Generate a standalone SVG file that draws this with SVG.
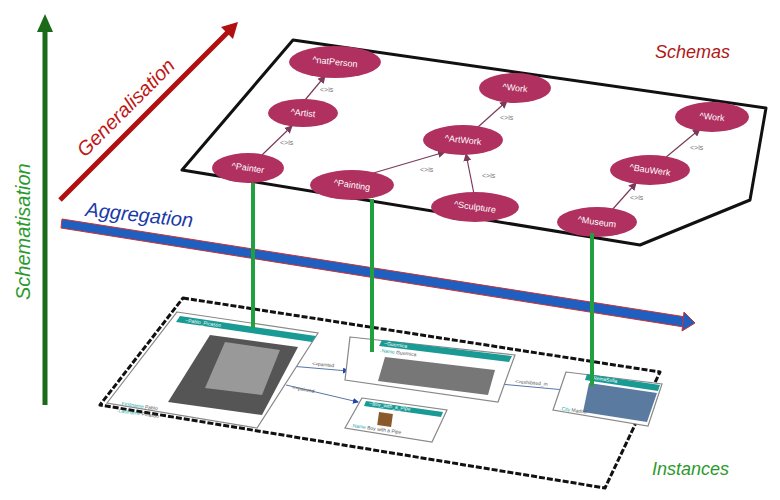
<svg xmlns="http://www.w3.org/2000/svg" width="780" height="500" viewBox="0 0 780 500">
<defs>
<style>
.lbl{font-family:"Liberation Sans",Arial,sans-serif;font-style:italic}
.nd{fill:#b0305f}
.nt{font-family:"Liberation Sans",Arial,sans-serif;font-size:9px;fill:#fff;text-anchor:middle}
.is{font-family:"Liberation Sans",Arial,sans-serif;font-size:7px;fill:#777}
.ed{stroke:#7a3a5a;stroke-width:1.2;marker-end:url(#ah)}
.card{fill:#fff;stroke:#888;stroke-width:1.2}
.hd{fill:#1a9a94}
.sm{font-family:"Liberation Sans",Arial,sans-serif;font-size:5px;fill:#555}
.smk{font-family:"Liberation Sans",Arial,sans-serif;font-size:5px;fill:#2aa}
.ie{stroke:#5577aa;stroke-width:1;fill:none;marker-end:url(#bh)}
.vl{stroke:#22a040;stroke-width:4}
</style>
<marker id="ah" markerWidth="8" markerHeight="8" refX="7" refY="4" orient="auto" markerUnits="userSpaceOnUse"><path d="M0,0L8,4L0,8z" fill="#7a3a5a"/></marker>
<marker id="bh" markerWidth="6" markerHeight="6" refX="5" refY="3" orient="auto" markerUnits="userSpaceOnUse"><path d="M0,0L6,3L0,6z" fill="#2244aa"/></marker>
</defs>
<rect width="780" height="500" fill="#fff"/>

<g id="axes">
<line x1="45" y1="405" x2="45" y2="30" stroke="#1a6a1a" stroke-width="5"/>
<path d="M37,32L45,14L53,32z" fill="#1a6a1a"/>
<text class="lbl" x="0" y="0" font-size="20" fill="#2a9a2a" transform="translate(30,300) rotate(-90)">Schematisation</text>
<line x1="60" y1="200" x2="228" y2="32" stroke="#b01010" stroke-width="5"/>
<path d="M221,27L238,22L233,39z" fill="#b01010"/>
<text class="lbl" x="0" y="0" font-size="20" fill="#c01818" transform="translate(85,158) rotate(-45)">Generalisation</text>
<path d="M62,219L686,317L684,327L61,228z" fill="#1f5fbf" stroke="#d03030" stroke-width="1"/>
<path d="M684,312L695,323L682,331z" fill="#1f5fbf" stroke="#d03030" stroke-width="1"/>
<text class="lbl" x="85" y="216" font-size="20" fill="#1a3aa8" transform="rotate(6 85 216)">Aggregation</text>
</g>

<g id="schema-plane">
<polygon points="293,40 766,108 750,200 640,245 182,170" fill="#fff" stroke="#111" stroke-width="3" stroke-linejoin="round"/>
<text class="lbl" x="655" y="58" font-size="18" fill="#b01818">Schemas</text>
</g>

<g id="schema-edges">
<line class="ed" x1="305" y1="100" x2="325" y2="76"/>
<line class="ed" x1="262" y1="155" x2="292" y2="126"/>
<line class="ed" x1="370" y1="174" x2="445" y2="152"/>
<line class="ed" x1="474" y1="194" x2="466" y2="154"/>
<line class="ed" x1="478" y1="127" x2="507" y2="101"/>
<line class="ed" x1="612" y1="210" x2="636" y2="183"/>
<line class="ed" x1="665" y1="158" x2="700" y2="129"/>
<text class="is" x="320" y="92">&lt;&gt;is</text>
<text class="is" x="280" y="145">&lt;&gt;is</text>
<text class="is" x="420" y="172">&lt;&gt;is</text>
<text class="is" x="482" y="178">&lt;&gt;is</text>
<text class="is" x="500" y="120">&lt;&gt;is</text>
<text class="is" x="630" y="200">&lt;&gt;is</text>
<text class="is" x="690" y="150">&lt;&gt;is</text>
</g>

<g id="n-natPerson"><ellipse class="nd" cx="335" cy="62" rx="46" ry="16"/><text class="nt" x="335" y="65" transform="rotate(6 335 62)">^natPerson</text></g>
<g id="n-Artist"><ellipse class="nd" cx="303" cy="113" rx="35" ry="14"/><text class="nt" x="303" y="116" transform="rotate(6 303 113)">^Artist</text></g>
<g id="n-Painter"><ellipse class="nd" cx="248" cy="168" rx="36" ry="15"/><text class="nt" x="248" y="171" transform="rotate(8 248 168)">^Painter</text></g>
<g id="n-Painting"><ellipse class="nd" cx="352" cy="185" rx="42" ry="15"/><text class="nt" x="352" y="188" transform="rotate(8 352 185)">^Painting</text></g>
<g id="n-ArtWork"><ellipse class="nd" cx="463" cy="140" rx="40" ry="15"/><text class="nt" x="463" y="143" transform="rotate(6 463 140)">^ArtWork</text></g>
<g id="n-Work"><ellipse class="nd" cx="515" cy="88" rx="36" ry="15"/><text class="nt" x="515" y="91" transform="rotate(6 515 88)">^Work</text></g>
<g id="n-Sculpture"><ellipse class="nd" cx="475" cy="207" rx="44" ry="15"/><text class="nt" x="475" y="210" transform="rotate(8 475 207)">^Sculpture</text></g>
<g id="n-Museum"><ellipse class="nd" cx="597" cy="222" rx="40" ry="15"/><text class="nt" x="597" y="225" transform="rotate(8 597 222)">^Museum</text></g>
<g id="n-BauWerk"><ellipse class="nd" cx="650" cy="170" rx="40" ry="15"/><text class="nt" x="650" y="173" transform="rotate(8 650 170)">^BauWerk</text></g>
<g id="n-Work2"><ellipse class="nd" cx="712" cy="117" rx="37" ry="15"/><text class="nt" x="712" y="120" transform="rotate(6 712 117)">^Work</text></g>

<g id="instance-plane">
<polygon points="183,298 660,372 605,488 100,405" fill="#fff" stroke="#111" stroke-width="3" stroke-dasharray="6 2" stroke-linejoin="round"/>
<text class="lbl" x="652" y="475" font-size="18" fill="#2a9a2a">Instances</text>
</g>

<g id="instance-edges">
<path class="ie" d="M290,366L348,371"/>
<path class="ie" d="M286,385L358,402"/>
<path class="ie" d="M500,384L565,390"/>
<text class="sm" x="312" y="365" transform="rotate(6 312 365)">&lt;&gt;painted</text>
<text class="sm" x="292" y="389" transform="rotate(10 292 389)">&lt;&gt;painted</text>
<text class="sm" x="515" y="383" transform="rotate(5 515 383)">&lt;&gt;exhibited_in</text>
</g>

<g id="card-picasso">
<polygon class="card" points="177,312 318,333 257,428 107,403"/>
<polygon class="hd" points="180,316 316,336 312,342 176,322"/>
<text class="sm" x="185" y="322" fill="#fff" transform="rotate(8 185 322)" style="fill:#fff">~Pablo_Picasso</text>
<polygon points="210,335 298,347 262,415 168,402" fill="#555"/>
<polygon points="225,342 280,350 262,395 205,388" fill="#999"/>
<text class="smk" x="120" y="405" transform="rotate(8 120 405)">.Firstname <tspan fill="#555">Pablo</tspan></text>
<text class="smk" x="117" y="412" transform="rotate(8 117 412)">.Lastname <tspan fill="#555">Picasso</tspan></text>
</g>

<g id="card-guernica">
<polygon class="card" points="350,337 515,355 498,402 345,380"/>
<polygon class="hd" points="382,340 512,356 509,362 379,346"/>
<text class="sm" x="384" y="345" transform="rotate(7 384 345)" style="fill:#fff">~Guernica</text>
<text class="smk" x="380" y="352" transform="rotate(7 380 352)">.Name <tspan fill="#555">Guernica</tspan></text>
<polygon points="385,357 495,370 488,395 378,381" fill="#777"/>
</g>

<g id="card-boy">
<polygon class="card" points="362,398 447,410 432,442 345,428"/>
<polygon class="hd" points="366,401 443,412 441,417 364,406"/>
<text class="sm" x="369" y="405" transform="rotate(8 369 405)" style="fill:#fff">~Boy_with_a_Pipe</text>
<rect x="378" y="413" width="14" height="13" fill="#8a5a2a" transform="rotate(8 385 420)"/>
<text class="smk" x="351" y="427" transform="rotate(8 351 427)">.Name <tspan fill="#555">Boy with a Pipe</tspan></text>
</g>

<g id="card-museum">
<polygon class="card" points="566,372 662,384 648,426 553,410"/>
<polygon class="hd" points="587,374 660,385 658,391 585,380"/>
<text class="sm" x="590" y="379" transform="rotate(8 590 379)" style="fill:#fff">~ReinaSofia</text>
<polygon points="589,383 657,393 647,422 583,412" fill="#5a7aa0"/>
<text class="smk" x="560" y="410" transform="rotate(8 560 410)">.City <tspan fill="#555">Madrid</tspan></text>
</g>

<g id="connectors">
<line class="vl" x1="253" y1="183" x2="253" y2="328"/>
<line class="vl" x1="372" y1="199" x2="372" y2="352"/>
<line class="vl" x1="592" y1="233" x2="592" y2="386"/>
</g>
</svg>
